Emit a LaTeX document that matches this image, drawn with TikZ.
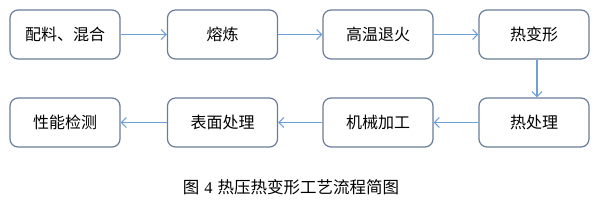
\documentclass[tikz,border=0pt]{standalone}
\usepackage{fontspec}
\newfontfamily\cjk{Noto Sans CJK SC}
\newfontfamily\serifnum{Liberation Serif}
\usetikzlibrary{arrows.meta}
\definecolor{boxline}{RGB}{105,125,155}
\definecolor{arrowc}{RGB}{110,160,215}
\tikzset{
  stepbox/.style={draw=boxline, line width=1.2pt, rounded corners=8pt, minimum width=110pt, minimum height=49pt, inner sep=0pt, font=\cjk\fontsize{16}{18}\selectfont, text=black},
  flow/.style={draw=arrowc, line width=1.2pt, -{Straight Barb[length=5pt,width=10pt,line width=1.1pt]}}
}
\begin{document}
\begin{tikzpicture}[x=1pt,y=1pt]
\useasboundingbox (0,0) rectangle (599,204);
\node[stepbox] (a) at (65,169.5) {配料、混合};
\node[stepbox] (b) at (222.5,169.5) {熔炼};
\node[stepbox] (c) at (378,169.5) {高温退火};
\node[stepbox] (d) at (534,169.5) {热变形};
\node[stepbox] (e) at (534,81.5) {热处理};
\node[stepbox] (f) at (378,81.5) {机械加工};
\node[stepbox] (g) at (222.5,81.5) {表面处理};
\node[stepbox] (h) at (65,81.5) {性能检测};
\draw[flow] (a) -- (b);
\draw[flow] (b) -- (c);
\draw[flow] (c) -- (d);
\draw[flow] ([xshift=3pt]d.south) -- ([xshift=3pt]e.north);
\draw[flow] (e) -- (f);
\draw[flow] (f) -- (g);
\draw[flow] (g) -- (h);
\node[font=\cjk\fontsize{16.5}{18}\selectfont, inner sep=0pt] (cap) at (291,17) {图\hspace{5pt}{\serifnum 4}\hspace{5pt}热压热变形工艺流程简图};
\end{tikzpicture}
\end{document}
